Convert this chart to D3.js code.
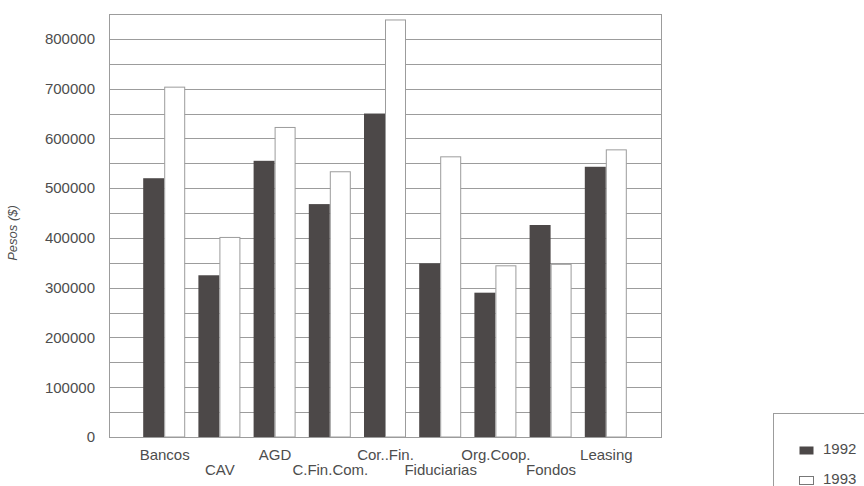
<!DOCTYPE html>
<html>
<head>
<meta charset="utf-8">
<script src="https://cdn.jsdelivr.net/npm/d3@7"></script>
<style>
  html, body { margin: 0; padding: 0; background: #ffffff; }
  svg { display: block; }
</style>
</head>
<body>
<svg id="chart" width="864" height="486"></svg>
<script>
const categories = ["Bancos", "CAV", "AGD", "C.Fin.Com.", "Cor..Fin.", "Fiduciarias", "Org.Coop.", "Fondos", "Leasing"];
const seriesNames = ["1992", "1993"];
const values1992 = [520000, 325000, 555000, 468000, 650000, 349000, 290000, 426000, 543000];
const values1993 = [703000, 401000, 622000, 533000, 838000, 563000, 344000, 347000, 577000];
const yTickValues = [0, 100000, 200000, 300000, 400000, 500000, 600000, 700000, 800000];
const yGridValues = d3.range(0, 850001, 50000);
const yLabel = "Pesos ($)";

(function () {
const svg = d3.select("#chart");
const pLeft = 109, pRight = 661, pTop = 14, pBottom = 437;
const textColor = "#4d4d4d";
const gridColor = "#9c9c9c";
const darkFill = "#4c4848";
const font = "'Liberation Sans', Arial, sans-serif";

const x = d3.scalePoint().domain(categories).range([pLeft, pRight]).padding(1);
const y = d3.scaleLinear().domain([0, 850000]).range([pBottom, pTop]);
const barW = 21;

// plot border
svg.append("rect")
  .attr("x", pLeft + 0.5).attr("y", pTop + 0.5)
  .attr("width", pRight - pLeft).attr("height", pBottom - pTop)
  .attr("fill", "#fff").attr("stroke", gridColor).attr("stroke-width", 1);

// gridlines
svg.append("g").selectAll("line").data(yGridValues).join("line")
  .attr("x1", pLeft).attr("x2", pRight)
  .attr("y1", d => Math.round(y(d)) + 0.5).attr("y2", d => Math.round(y(d)) + 0.5)
  .attr("stroke", gridColor).attr("stroke-width", 1);

// y axis labels via d3 axis
const yAxis = d3.axisLeft(y).tickValues(yTickValues).tickFormat(d3.format("d")).tickSize(0).tickPadding(14);
const gy = svg.append("g").attr("transform", `translate(${pLeft},0)`).call(yAxis);
gy.select(".domain").remove();
gy.selectAll("text").attr("fill", textColor).style("font-family", font).style("font-size", "15px");

// bars
const series = [values1992, values1993];
series.forEach((vals, si) => {
  svg.append("g").selectAll("rect").data(categories).join("rect")
    .attr("x", (c, i) => x(c) - barW + si * barW + (si ? 0.5 : 0))
    .attr("y", (c, i) => y(vals[i]))
    .attr("width", barW - (si ? 1 : 0))
    .attr("height", (c, i) => pBottom - y(vals[i]))
    .attr("fill", si ? "#ffffff" : darkFill)
    .attr("stroke", si ? gridColor : "none")
    .attr("stroke-width", 1);
});

// x labels (staggered)
const xAxis = d3.axisBottom(x).tickSize(0).tickPadding(0);
const gx = svg.append("g").attr("transform", `translate(0,${pBottom})`).call(xAxis);
gx.select(".domain").remove();
gx.selectAll("text")
  .attr("dy", null)
  .attr("y", (d, i) => i % 2 === 0 ? 23 : 38)
  .attr("fill", textColor).style("font-family", font).style("font-size", "15px");

// y title
svg.append("text")
  .attr("transform", "translate(17,233) rotate(-90)")
  .attr("text-anchor", "middle")
  .attr("fill", textColor)
  .style("font-family", font).style("font-size", "13px").style("font-style", "italic")
  .text(yLabel);

// legend
const lg = svg.append("g");
lg.append("rect").attr("x", 773.5).attr("y", 413.5).attr("width", 200).attr("height", 200)
  .attr("fill", "#fff").attr("stroke", gridColor);
seriesNames.forEach((s, i) => {
  lg.append("rect").attr("x", 799.5).attr("y", 446.5 + i * 30).attr("width", 14).attr("height", 8)
    .attr("fill", i ? "#fff" : darkFill).attr("stroke", i ? "#777" : "none");
  lg.append("text").attr("x", 823).attr("y", 454 + i * 30)
    .attr("fill", textColor).style("font-family", font).style("font-size", "15px").text(s);
});
})();
</script>
</body>
</html>
